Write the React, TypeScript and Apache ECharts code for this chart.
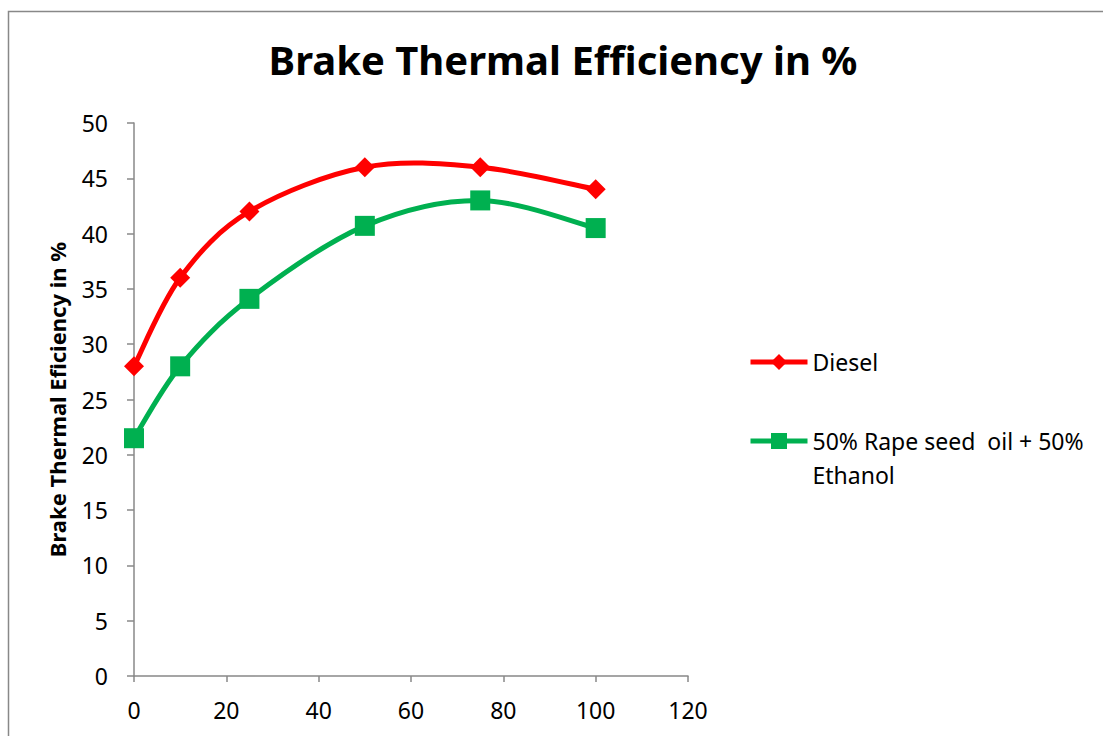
import React, { useEffect, useRef } from "react";
import * as echarts from "echarts";

const xValues = [0, 10, 25, 50, 75, 100];
const dieselValues = [28, 36, 42, 46, 46, 44];
const blendValues = [21.5, 28, 34.1, 40.7, 43, 40.5];
const seriesNames = ["Diesel", "50% Rape seed  oil + 50% Ethanol"];
const titleText = "Brake Thermal Efficiency in %";
const yAxisTitle = "Brake Thermal Eficiency in %";
const colors = ["#FF0000", "#00B050"];

function smoothSegment(values: number[], color: string) {
  return (params: any, api: any) => {
    const i = params.dataIndex;
    const n = values.length;
    if (i >= n - 1) return null;
    const p = (j: number) => {
      const k = Math.max(0, Math.min(n - 1, j));
      return api.coord([xValues[k], values[k]]);
    };
    const p0 = p(i - 1);
    const p1 = p(i);
    const p2 = p(i + 1);
    const p3 = p(i + 2);
    const t = 1 / 6;
    return {
      type: "bezierCurve",
      shape: {
        x1: p1[0],
        y1: p1[1],
        cpx1: p1[0] + (p2[0] - p0[0]) * t,
        cpy1: p1[1] + (p2[1] - p0[1]) * t,
        cpx2: p2[0] - (p3[0] - p1[0]) * t,
        cpy2: p2[1] - (p3[1] - p1[1]) * t,
        x2: p2[0],
        y2: p2[1],
      },
      style: { stroke: color, lineWidth: 5, fill: "none", lineCap: "round" },
      silent: true,
    };
  };
}

export default function App() {
  const ref = useRef<HTMLDivElement>(null);
  useEffect(() => {
    if (!ref.current) return;
    const chart = echarts.init(ref.current, null, { renderer: "svg" });
    const font = "Noto Sans";
    const dieselData = xValues.map((x, i) => [x, dieselValues[i]]);
    const blendData = xValues.map((x, i) => [x, blendValues[i]]);
    chart.setOption({
      animation: false,
      backgroundColor: "#ffffff",
      textStyle: { fontFamily: font },
      title: {
        text: titleText,
        left: 558,
        textAlign: "center",
        top: 34,
        textStyle: { fontFamily: font, fontWeight: "bold", fontSize: 40, color: "#000" },
      },
      graphic: [
        {
          type: "rect",
          shape: { x: 8.5, y: 11.5, width: 1200, height: 800 },
          style: { fill: "none", stroke: "#888", lineWidth: 1.5 },
          silent: true,
        },
      ],
      grid: { left: 134, right: 415, top: 123, bottom: 60, containLabel: false },
      xAxis: {
        type: "value",
        min: 0,
        max: 120,
        interval: 20,
        axisLine: { show: true, lineStyle: { color: "#888", width: 1.5 } },
        axisTick: { show: true, length: 6, lineStyle: { color: "#888", width: 1.5 } },
        axisLabel: { fontFamily: font, fontSize: 23, color: "#000", margin: 22 },
        splitLine: { show: false },
      },
      yAxis: {
        type: "value",
        min: 0,
        max: 50,
        interval: 5,
        name: yAxisTitle,
        nameLocation: "middle",
        nameGap: 66,
        nameTextStyle: { fontFamily: font, fontWeight: "bold", fontSize: 22, color: "#000" },
        axisLine: { show: true, lineStyle: { color: "#888", width: 1.5 } },
        axisTick: { show: true, length: 7, lineStyle: { color: "#888", width: 1.5 } },
        axisLabel: { fontFamily: font, fontSize: 23, color: "#000", margin: 26 },
        splitLine: { show: false },
      },
      legend: {
        orient: "vertical",
        left: 743,
        top: 340,
        itemWidth: 57,
        itemHeight: 20,
        itemGap: 11,
        textStyle: { fontFamily: font, fontSize: 23, color: "#000", lineHeight: 34 },
        formatter: (name: string) =>
          name === seriesNames[1] ? " \n50% Rape seed  oil + 50%\nEthanol" : name,
        data: [
          { name: seriesNames[0], lineStyle: { color: colors[0], width: 5, opacity: 1 } },
          { name: seriesNames[1], lineStyle: { color: colors[1], width: 5, opacity: 1 } },
        ],
      },
      series: [
        {
          type: "custom",
          coordinateSystem: "cartesian2d",
          data: dieselData,
          encode: { x: 0, y: 1 },
          renderItem: smoothSegment(dieselValues, colors[0]),
          z: 2,
        },
        {
          type: "custom",
          coordinateSystem: "cartesian2d",
          data: blendData,
          encode: { x: 0, y: 1 },
          renderItem: smoothSegment(blendValues, colors[1]),
          z: 2,
        },
        {
          name: seriesNames[0],
          type: "line",
          data: dieselData,
          symbol: "diamond",
          symbolSize: 20,
          lineStyle: { color: colors[0], width: 5, opacity: 0 },
          itemStyle: { color: colors[0] },
          z: 3,
        },
        {
          name: seriesNames[1],
          type: "line",
          data: blendData,
          symbol: "rect",
          symbolSize: 20,
          lineStyle: { color: colors[1], width: 5, opacity: 0 },
          itemStyle: { color: colors[1] },
          z: 3,
        },
      ],
    });
    return () => chart.dispose();
  }, []);
  return (
    <div
      ref={ref}
      style={{ position: "absolute", left: 0, top: 0, width: 1103, height: 736 }}
    />
  );
}
